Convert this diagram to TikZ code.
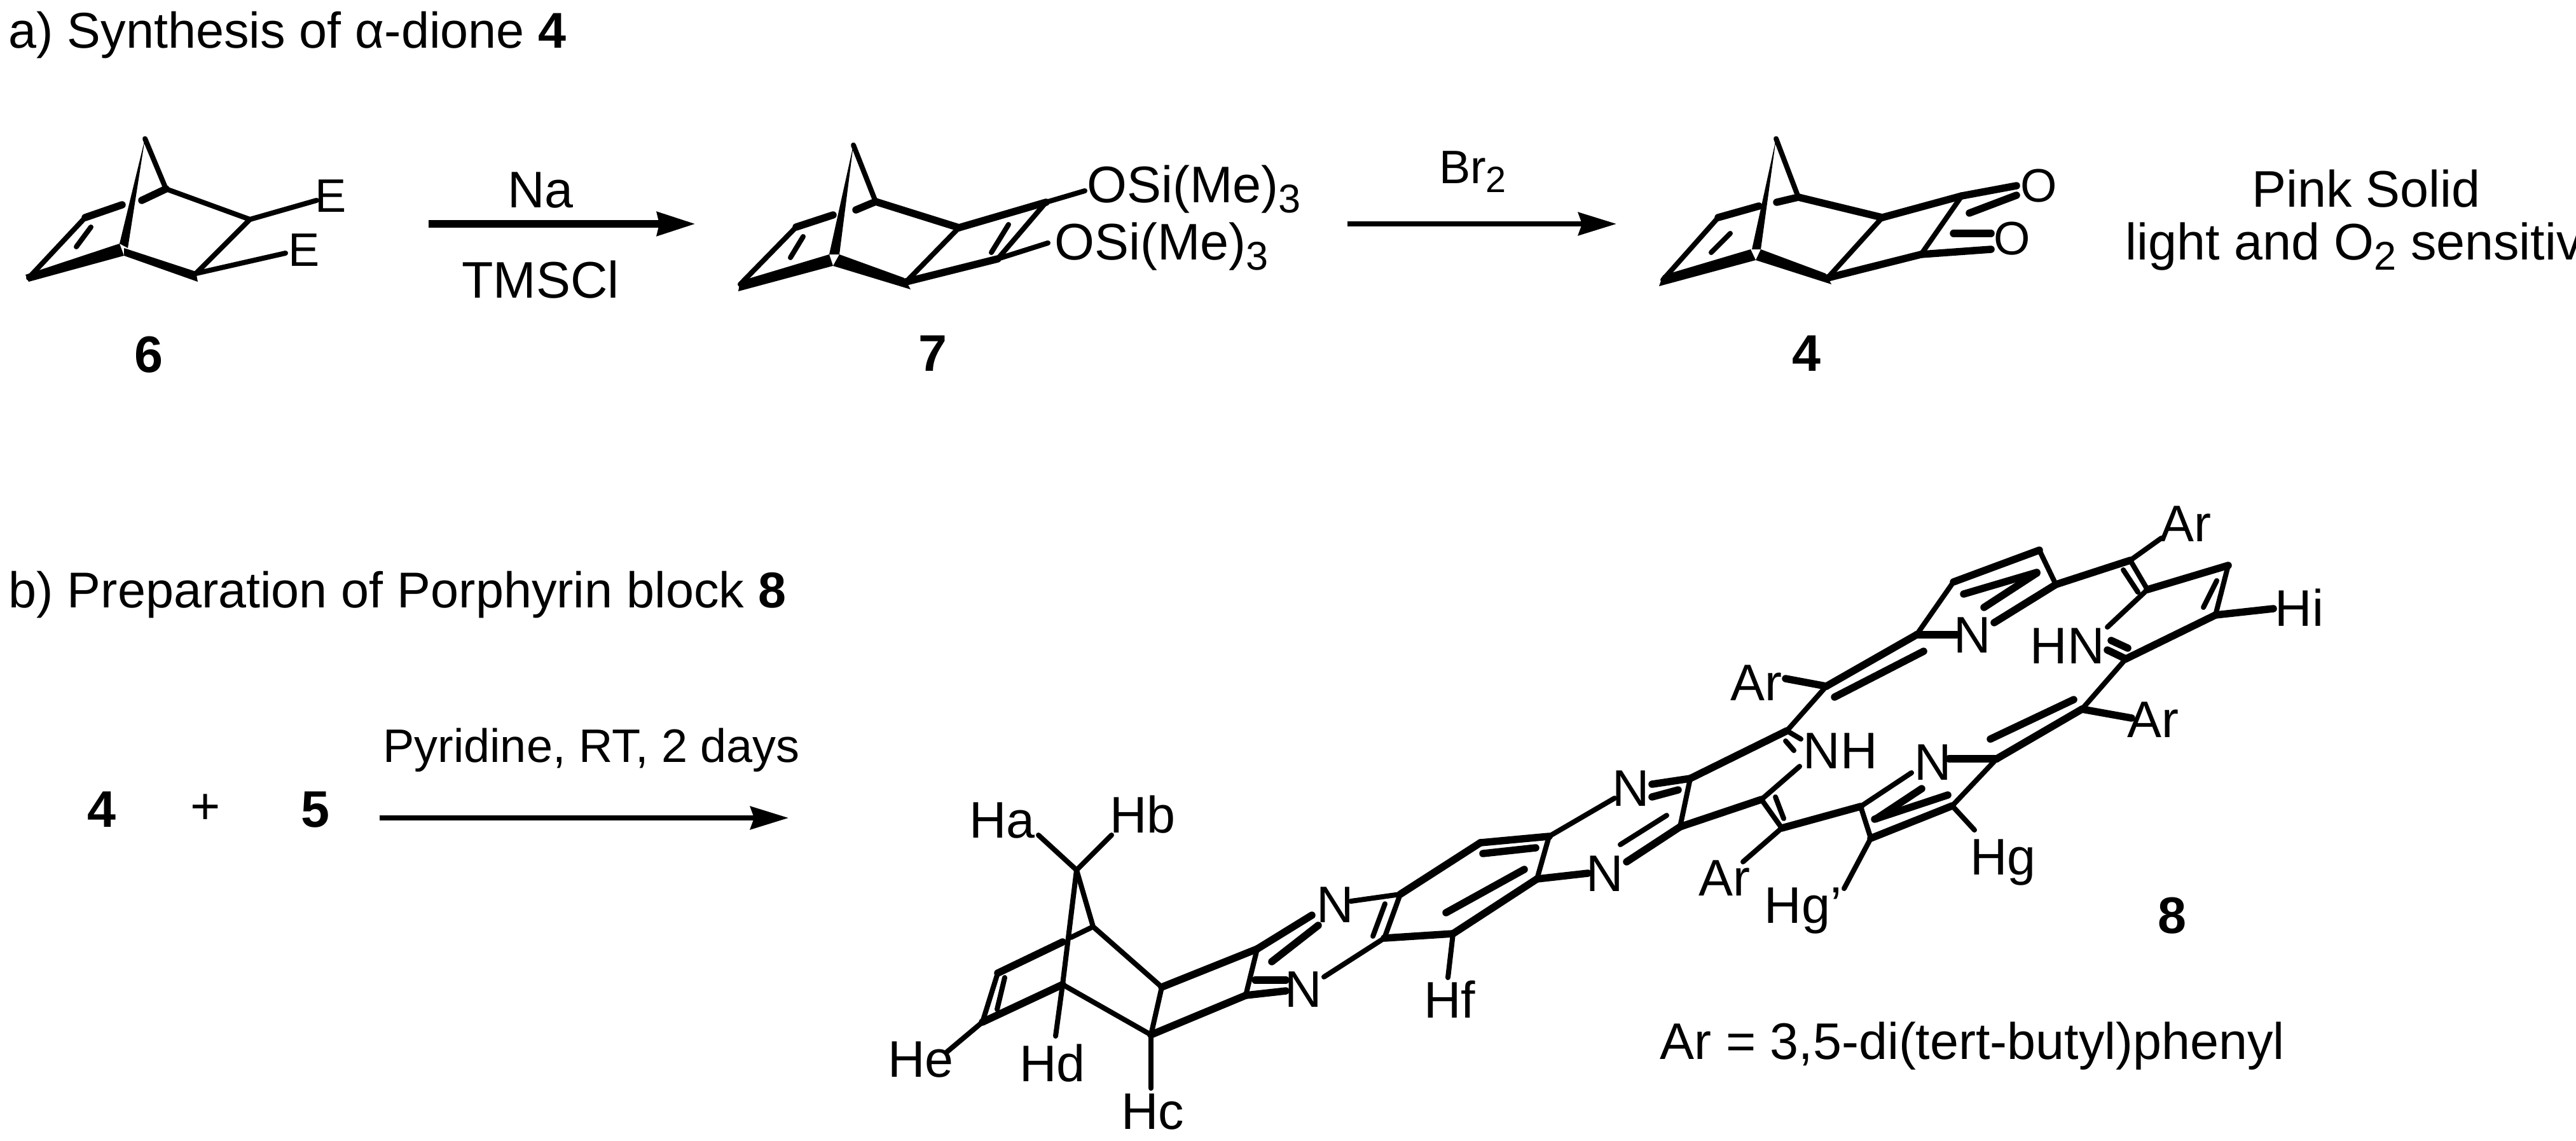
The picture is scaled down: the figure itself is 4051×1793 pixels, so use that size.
\documentclass[tikz,border=0pt]{standalone}
\usepackage{fontspec}
\setmainfont{Liberation Sans}
\usetikzlibrary{arrows.meta}
\newcommand{\subn}[1]{\raisebox{-0.2em}{\scalebox{0.78}{#1}}}
\tikzset{
    bond/.style = {line width=0.08cm, line cap=round},
    boldbond/.style = {line width=0.115cm, line cap=round},
    lbl/.style = {inner sep=0pt, anchor=base, font=\fontsize{23}{27}\selectfont},
    lblE/.style = {inner sep=0pt, anchor=base, font=\fontsize{21}{25}\selectfont},
    headline/.style = {inner sep=0pt, anchor=base west, font=\fontsize{22.5}{27}\selectfont},
    numlbl/.style = {inner sep=0pt, anchor=base, font=\fontsize{23}{27}\selectfont\bfseries},
    bigarrow/.style = {line width=0.115cm, -{Stealth[length=0.6cm,width=0.36cm,inset=0.03cm]}},
    smallarrow/.style = {line width=0.075cm, -{Stealth[length=0.6cm,width=0.36cm,inset=0.06cm]}}
}
\begin{document}
\begin{tikzpicture}[x=0.01cm, y=-0.01cm]
    \useasboundingbox (0,0) rectangle (4051,1793);
    % Titoli
    \node[headline] (titleA) at (13,75) {a) Synthesis of α-dione \textbf{4}};
    \node[headline] (titleB) at (13,955) {b) Preparation of Porphyrin block \textbf{8}};
    % Molecola 6
    \coordinate (sixT) at (228,218);
    \coordinate (sixR) at (261,297);
    \coordinate (sixC) at (393,345);
    \coordinate (sixD) at (308,430);
    \coordinate (sixB) at (195,390);
    \coordinate (sixL) at (45,437);
    \coordinate (sixU) at (134,342);
    \coordinate (sixGa) at (192,322);
    \coordinate (sixGb) at (223,315);
    \coordinate (sixIa) at (143,357);
    \coordinate (sixIb) at (120,388);
    \coordinate (sixEa) at (498,315);
    \coordinate (sixEb) at (449,398);
    \fill (sixT) -- (188,383) -- (201,390) -- cycle;
    \fill (188,383) -- (40,432) -- (45,443) -- (195,402) -- cycle;
    \fill (195,390) -- (308,427) -- (311,443) -- (195,402) -- cycle;
    \draw[bond] (sixT) -- (sixR) -- (sixC) -- (sixD);
    \draw[boldbond] (sixR) -- (sixGb);
    \draw[boldbond] (sixGa) -- (sixU);
    \draw[bond] (sixU) -- (sixL);
    \draw[bond] (sixIa) -- (sixIb);
    \draw[bond] (sixC) -- (sixEa);
    \draw[bond] (sixD) -- (sixEb);
    \node[lblE] (eA) at (520,333) {E};
    \node[lblE] (eB) at (478,418) {E};
    \node[numlbl] (numSix) at (234,585) {6};
    % Freccia Na
    \coordinate (arrAs) at (674,352);
    \coordinate (arrAe) at (1094,352);
    \draw[bigarrow] (arrAs) -- (arrAe);
    \node[lbl] (na) at (850,326) {Na};
    \node[lbl] (tmscl) at (850,468) {TMSCl};
    % Molecola 7
    \coordinate (sevT) at (1342,228);
    \coordinate (sevR) at (1377,317);
    \coordinate (sevA) at (1508,358);
    \coordinate (sevC) at (1425,443);
    \coordinate (sevU) at (1252,357);
    \coordinate (sevL) at (1164,447);
    \coordinate (sevP) at (1645,318);
    \coordinate (sevQ) at (1569,407);
    \coordinate (sevGa) at (1310,338);
    \coordinate (sevGb) at (1346,330);
    \coordinate (sevIa) at (1263,372);
    \coordinate (sevIb) at (1243,405);
    \coordinate (sevJa) at (1586,353);
    \coordinate (sevJb) at (1559,397);
    \coordinate (sevOa) at (1706,300);
    \coordinate (sevOb) at (1648,382);
    \fill (sevT) -- (1304,400) -- (1320,400) -- cycle;
    \fill (1304,400) -- (1164,442) -- (1161,458) -- (1310,418) -- cycle;
    \fill (1320,400) -- (1422,437) -- (1432,455) -- (1310,418) -- cycle;
    \draw[bond] (sevT) -- (sevR);
    \draw[boldbond] (sevR) -- (sevA);
    \draw[bond] (sevA) -- (sevC);
    \draw[boldbond] (sevA) -- (sevP);
    \draw[boldbond] (sevC) -- (sevQ);
    \draw[bond] (sevP) -- (sevQ);
    \draw[boldbond] (sevR) -- (sevGb);
    \draw[boldbond] (sevGa) -- (sevU);
    \draw[bond] (sevU) -- (sevL);
    \draw[bond] (sevIa) -- (sevIb);
    \draw[bond] (sevJa) -- (sevJb);
    \draw[bond] (sevP) -- (sevOa);
    \draw[bond] (sevQ) -- (sevOb);
    \node[lbl, anchor=base west] (osiA) at (1709,318) {OSi(Me)\subn{3}};
    \node[lbl, anchor=base west] (osiB) at (1658,408) {OSi(Me)\subn{3}};
    \node[numlbl] (numSev) at (1467,583) {7};
    % Freccia Br2
    \coordinate (arrBs) at (2119,352);
    \coordinate (arrBe) at (2542,352);
    \draw[smallarrow] (arrBs) -- (arrBe);
    \node[lblE] (brt) at (2316,288) {Br\subn{2}};
    % Molecola 4
    \coordinate (forT) at (2793,218);
    \coordinate (forR) at (2828,310);
    \coordinate (forA) at (2960,342);
    \coordinate (forC) at (2874,437);
    \coordinate (forU) at (2702,342);
    \coordinate (forL) at (2615,440);
    \coordinate (forP) at (3085,308);
    \coordinate (forQ) at (3021,400);
    \coordinate (forGa) at (2766,324);
    \coordinate (forGb) at (2794,318);
    \coordinate (forIa) at (2721,367);
    \coordinate (forIb) at (2691,397);
    \coordinate (forOa) at (3171,292);
    \coordinate (forOb) at (3097,335);
    \coordinate (forOc) at (3171,307);
    \coordinate (forOd) at (3131,392);
    \coordinate (forOe) at (3072,367);
    \coordinate (forOf) at (3131,367);
    \fill (forT) -- (2755,392) -- (2769,392) -- cycle;
    \fill (2753,392) -- (2615,433) -- (2609,450) -- (2761,409) -- cycle;
    \fill (2769,392) -- (2871,430) -- (2880,447) -- (2761,409) -- cycle;
    \draw[bond] (forT) -- (forR);
    \draw[boldbond] (forR) -- (forA);
    \draw[bond] (forA) -- (forC);
    \draw[boldbond] (forA) -- (forP);
    \draw[boldbond] (forC) -- (forQ);
    \draw[bond] (forP) -- (forQ);
    \draw[boldbond] (forR) -- (forGb);
    \draw[boldbond] (forGa) -- (forU);
    \draw[bond] (forU) -- (forL);
    \draw[bond] (forIa) -- (forIb);
    \draw[boldbond] (forP) -- (forOa);
    \draw[boldbond] (forOb) -- (forOc);
    \draw[boldbond] (forQ) -- (forOd);
    \draw[boldbond] (forOe) -- (forOf);
    \node[lblE] (oA) at (3206,317) {O};
    \node[lblE] (oB) at (3164,400) {O};
    \node[numlbl] (numFor) at (2841,583) {4};
    \node[lbl] (pink) at (3721,325) {Pink Solid};
    \node[lbl] (sens) at (3724,408) {light and O\subn{2} sensitive};
    % Reazione b
    \node[numlbl] (numForB) at (160,1300) {4};
    \node[lbl] (plus) at (323,1295) {+};
    \node[numlbl] (numFiv) at (496,1300) {5};
    \coordinate (arrCs) at (597,1286);
    \coordinate (arrCe) at (1240,1286);
    \draw[smallarrow] (arrCs) -- (arrCe);
    \node[lblE] (pyr) at (930,1198) {Pyridine, RT, 2 days};
    % Blocco 8: norbornene
    \coordinate (cBr) at (1693,1368);
    \coordinate (cHa) at (1633,1313);
    \coordinate (cHb) at (1748,1313);
    \coordinate (cR) at (1719,1457);
    \coordinate (cGa) at (1684,1474);
    \coordinate (cGb) at (1671,1481);
    \coordinate (cU) at (1569,1530);
    \coordinate (cL) at (1545,1607);
    \coordinate (cIa) at (1580,1537);
    \coordinate (cIb) at (1568,1587);
    \coordinate (cB) at (1671,1548);
    \coordinate (cHd) at (1660,1629);
    \coordinate (cHe) at (1489,1654);
    \coordinate (cA) at (1827,1552);
    \coordinate (cC) at (1810,1627);
    \coordinate (cHc) at (1810,1711);
    \coordinate (cP) at (1977,1492);
    \coordinate (cQ) at (1959,1565);
    \draw[bond] (cHa) -- (cBr) -- (cHb);
    \draw[bond] (cBr) -- (cB) -- (cHd);
    \draw[bond] (cBr) -- (cR) -- (cA) -- (cC) -- (cB);
    \draw[bond] (cR) -- (cGa);
    \draw[boldbond] (cGb) -- (cU);
    \draw[bond] (cU) -- (cL) -- (cHe);
    \draw[bond] (cIa) -- (cIb);
    \draw[boldbond] (cL) -- (cB);
    \draw[bond] (cC) -- (cHc);
    \draw[boldbond] (cA) -- (cP);
    \draw[boldbond] (cC) -- (cQ);
    \draw[bond] (cP) -- (cQ);
    \node[lbl] (ha) at (1576,1317) {Ha};
    \node[lbl] (hb) at (1797,1309) {Hb};
    \node[lbl] (hc) at (1813,1775) {Hc};
    \node[lbl] (hd) at (1655,1700) {Hd};
    \node[lbl] (he) at (1448,1693) {He};
    % Pirazina e benzene
    \coordinate (dNa) at (2063,1439);
    \coordinate (dDa) at (2000,1512);
    \coordinate (dDb) at (2073,1455);
    \coordinate (dNb) at (2022,1558);
    \coordinate (dDc) at (1974,1541);
    \coordinate (dDd) at (2022,1541);
    \coordinate (dSa) at (2124,1417);
    \coordinate (dSb) at (2082,1536);
    \coordinate (dM) at (2202,1406);
    \coordinate (dK) at (2177,1475);
    \coordinate (dDe) at (2178,1421);
    \coordinate (dDf) at (2159,1472);
    \coordinate (dTop) at (2328,1325);
    \coordinate (dF) at (2285,1468);
    \coordinate (dHf) at (2277,1537);
    \coordinate (dG) at (2436,1315);
    \coordinate (dJ) at (2417,1382);
    \coordinate (dDg) at (2332,1342);
    \coordinate (dDh) at (2415,1333);
    \coordinate (dDi) at (2397,1367);
    \coordinate (dDj) at (2274,1435);
    \draw[boldbond] (cP) -- (dNa);
    \draw[boldbond] (dDa) -- (dDb);
    \draw[boldbond] (cQ) -- (dNb);
    \draw[boldbond] (dDc) -- (dDd);
    \draw[bond] (dSa) -- (dM) -- (dK) -- (dSb);
    \draw[bond] (dDe) -- (dDf);
    \draw[boldbond] (dM) -- (dTop);
    \draw[boldbond] (dK) -- (dF);
    \draw[bond] (dF) -- (dHf);
    \draw[boldbond] (dTop) -- (dG);
    \draw[bond] (dG) -- (dJ);
    \draw[boldbond] (dJ) -- (dF);
    \draw[boldbond] (dDg) -- (dDh);
    \draw[boldbond] (dDi) -- (dDj);
    \node[lbl] (nA) at (2100,1450) {N};
    \node[lbl] (nB) at (2050,1583) {N};
    \node[lbl] (hf) at (2280,1600) {Hf};
    % Seconda pirazina e pirrolo
    \coordinate (eNa) at (2539,1255);
    \coordinate (eNb) at (2497,1373);
    \coordinate (eSa) at (2598,1233);
    \coordinate (eP) at (2658,1224);
    \coordinate (eQ) at (2642,1300);
    \coordinate (eDa) at (2598,1253);
    \coordinate (eDb) at (2639,1242);
    \coordinate (eNc) at (2558,1355);
    \coordinate (eDc) at (2548,1328);
    \coordinate (eDd) at (2621,1282);
    \coordinate (eS) at (2770,1257);
    \coordinate (eT) at (2810,1149);
    \coordinate (eTa) at (2832,1162);
    \coordinate (eTb) at (2808,1165);
    \coordinate (eTc) at (2821,1180);
    \coordinate (eNH) at (2830,1205);
    \coordinate (eU) at (2802,1302);
    \coordinate (eDe) at (2792,1253);
    \coordinate (eDf) at (2805,1287);
    \coordinate (eAr) at (2741,1355);
    \coordinate (eV) at (2926,1268);
    \coordinate (eW) at (2942,1318);
    \coordinate (eHgp) at (2900,1397);
    \coordinate (eX) at (3070,1267);
    \coordinate (eHg) at (3105,1305);
    \coordinate (eNd) at (3006,1215);
    \coordinate (eDg) at (3022,1240);
    \coordinate (eDh) at (2951,1287);
    \coordinate (eDi) at (3063,1250);
    \coordinate (eDj) at (2948,1288);
    \coordinate (eNe) at (3065,1193);
    \coordinate (eY) at (3140,1193);
    \draw[bond] (dG) -- (eNa);
    \draw[boldbond] (dJ) -- (eNb);
    \draw[boldbond] (eSa) -- (eP);
    \draw[boldbond] (eDa) -- (eDb);
    \draw[bond] (eP) -- (eQ);
    \draw[boldbond] (eNc) -- (eQ);
    \draw[bond] (eDc) -- (eDd);
    \draw[boldbond] (eQ) -- (eS);
    \draw[boldbond] (eP) -- (eT);
    \draw[bond] (eT) -- (eTa);
    \draw[bond] (eTb) -- (eTc);
    \draw[bond] (eNH) -- (eS) -- (eU);
    \draw[bond] (eDe) -- (eDf);
    \draw[bond] (eU) -- (eAr);
    \draw[boldbond] (eU) -- (eV);
    \draw[bond] (eV) -- (eW) -- (eHgp);
    \draw[boldbond] (eW) -- (eX);
    \draw[bond] (eX) -- (eHg);
    \draw[bond] (eV) -- (eNd);
    \draw[boldbond] (eDg) -- (eDh);
    \draw[boldbond] (eDi) -- (eDj);
    \draw[boldbond] (eNe) -- (eY);
    \draw[bond] (eY) -- (eX);
    \node[lbl] (nC) at (2565,1267) {N};
    \node[lbl] (nD) at (2524,1401) {N};
    \node[lbl] (nh) at (2894,1208) {NH};
    \node[lbl] (nE) at (3040,1226) {N};
    \node[lbl] (arA) at (2712,1408) {Ar};
    \node[lbl, anchor=base west] (hgp) at (2774,1451) {Hg'};
    \node[lbl] (hg) at (3150,1375) {Hg};
    % Porfirina, parte alta
    \coordinate (fZ) at (3274,1115);
    \coordinate (fDa) at (3130,1162);
    \coordinate (fDb) at (3261,1100);
    \coordinate (fArA) at (3352,1129);
    \coordinate (fCa) at (3343,1036);
    \coordinate (fTa) at (3314,1022);
    \coordinate (fTb) at (3346,1019);
    \coordinate (fTc) at (3320,1007);
    \coordinate (fNH) at (3314,986);
    \coordinate (fCb) at (3377,927);
    \coordinate (fCc) at (3484,967);
    \coordinate (fHi) at (3575,957);
    \coordinate (fCd) at (3504,889);
    \coordinate (fDc) at (3486,913);
    \coordinate (fDd) at (3465,955);
    \coordinate (fCe) at (3350,881);
    \coordinate (fDe) at (3339,896);
    \coordinate (fDf) at (3362,931);
    \coordinate (fArB) at (3399,846);
    \coordinate (fCf) at (3233,919);
    \coordinate (fCg) at (3207,865);
    \coordinate (fCh) at (3072,915);
    \coordinate (fCi) at (3014,998);
    \coordinate (fNa) at (3077,998);
    \coordinate (fNb) at (3136,979);
    \coordinate (fDg) at (3088,934);
    \coordinate (fDh) at (3203,900);
    \coordinate (fDi) at (3120,955);
    \coordinate (fDj) at (3203,901);
    \coordinate (fCj) at (2872,1079);
    \coordinate (fDk) at (2885,1096);
    \coordinate (fDl) at (3025,1024);
    \coordinate (fArC) at (2808,1067);
    \draw[boldbond] (eY) -- (fZ);
    \draw[boldbond] (fDa) -- (fDb);
    \draw[boldbond] (fZ) -- (fArA);
    \draw[bond] (fZ) -- (fCa);
    \draw[boldbond] (fCa) -- (fTa);
    \draw[boldbond] (fTb) -- (fTc);
    \draw[bond] (fNH) -- (fCb);
    \draw[boldbond] (fCa) -- (fCc);
    \draw[boldbond] (fCc) -- (fHi);
    \draw[bond] (fCc) -- (fCd);
    \draw[boldbond] (fCd) -- (fCb);
    \draw[bond] (fDc) -- (fDd);
    \draw[bond] (fCb) -- (fCe);
    \draw[bond] (fDe) -- (fDf);
    \draw[bond] (fCe) -- (fArB);
    \draw[boldbond] (fCe) -- (fCf);
    \draw[bond] (fCf) -- (fCg);
    \draw[boldbond] (fCg) -- (fCh);
    \draw[bond] (fCh) -- (fCi);
    \draw[boldbond] (fCi) -- (fNa);
    \draw[boldbond] (fCf) -- (fNb);
    \draw[boldbond] (fDg) -- (fDh);
    \draw[boldbond] (fDi) -- (fDj);
    \draw[boldbond] (fCi) -- (fCj);
    \draw[boldbond] (fDk) -- (fDl);
    \draw[boldbond] (fCj) -- (fArC);
    \draw[bond] (fCj) -- (eT);
    \node[lbl] (nF) at (3102,1026) {N};
    \node[lbl] (hn) at (3251,1043) {HN};
    \node[lbl, anchor=base west] (hi) at (3577,984) {Hi};
    \node[lbl] (arB) at (3386,1159) {Ar};
    \node[lbl] (arC) at (3437,851) {Ar};
    \node[lbl] (arD) at (2762,1101) {Ar};
    \node[numlbl] (numEig) at (3416,1467) {8};
    \node[lbl, anchor=base west] (arDef) at (2610,1665) {Ar = 3,5-di(tert-butyl)phenyl};
\end{tikzpicture}
\end{document}
